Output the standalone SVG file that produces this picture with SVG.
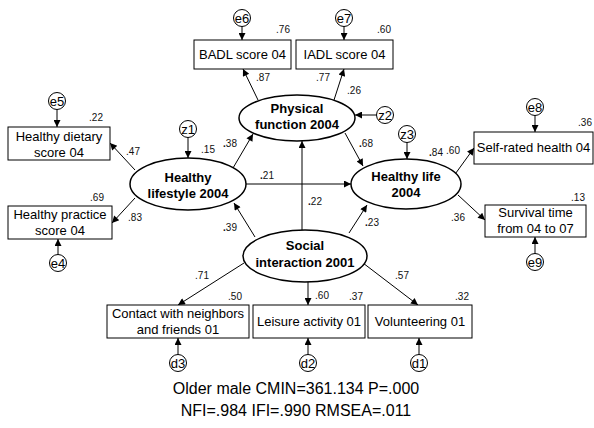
<svg xmlns="http://www.w3.org/2000/svg" width="594" height="428" viewBox="0 0 594 428">
<defs>
<style>
.box{fill:#fff;stroke:#000;stroke-width:1}
.lat{fill:#fff;stroke:#000;stroke-width:1.5}
.err{fill:#fff;stroke:#000;stroke-width:1}
.bt{font-family:"Liberation Sans",Arial,sans-serif;font-size:13px;fill:#000;text-anchor:middle}
.lt{font-family:"Liberation Sans",Arial,sans-serif;font-size:13px;font-weight:bold;fill:#000;text-anchor:middle}
.et{font-family:"Liberation Sans",Arial,sans-serif;font-size:13px;fill:#000;text-anchor:middle}
.nt{font-family:"Liberation Sans",Arial,sans-serif;font-size:10px;fill:#111;text-anchor:middle}
.ft{font-family:"Liberation Sans",Arial,sans-serif;font-size:16px;fill:#000;text-anchor:middle}
.c{stroke:#000;stroke-width:1;fill:none;marker-end:url(#ah)}
</style>
<marker id="ah" viewBox="0 0 10 10" refX="10" refY="5" markerWidth="9" markerHeight="7" markerUnits="userSpaceOnUse" orient="auto">
<path d="M0,0 L10,5 L0,10 z" fill="#000"/>
</marker>
</defs>
<rect width="594" height="428" fill="#fff"/>

<g id="connectors">
<line class="c" x1="258" y1="100" x2="243" y2="69"/>
<line class="c" x1="334" y1="100" x2="344" y2="69"/>
<line class="c" x1="377" y1="115" x2="355" y2="115"/>
<line class="c" x1="233" y1="168" x2="253" y2="134"/>
<line class="c" x1="246" y1="184" x2="351" y2="184"/>
<line class="c" x1="302" y1="230" x2="302" y2="141"/>
<line class="c" x1="345" y1="133" x2="363" y2="166"/>
<line class="c" x1="407" y1="142" x2="407" y2="159"/>
<line class="c" x1="188" y1="137" x2="188" y2="158"/>
<line class="c" x1="135" y1="170" x2="110" y2="143"/>
<line class="c" x1="135" y1="198" x2="112" y2="223"/>
<line class="c" x1="57" y1="109" x2="57" y2="127"/>
<line class="c" x1="58" y1="255" x2="58" y2="239"/>
<line class="c" x1="453" y1="177" x2="474" y2="148"/>
<line class="c" x1="458" y1="195" x2="485" y2="220"/>
<line class="c" x1="535" y1="115" x2="535" y2="132"/>
<line class="c" x1="535" y1="254" x2="535" y2="237"/>
<line class="c" x1="255" y1="237" x2="234" y2="203"/>
<line class="c" x1="349" y1="233" x2="367" y2="205"/>
<line class="c" x1="244" y1="263" x2="178" y2="305"/>
<line class="c" x1="308" y1="282" x2="308" y2="305"/>
<line class="c" x1="363" y1="263" x2="418" y2="305"/>
<line class="c" x1="178" y1="355" x2="178" y2="338"/>
<line class="c" x1="308" y1="355" x2="308" y2="338"/>
<line class="c" x1="419" y1="355" x2="419" y2="338"/>
<line class="c" x1="242" y1="26" x2="242" y2="40"/>
<line class="c" x1="344" y1="26" x2="344" y2="40"/>
</g>

<g id="badl"><rect class="box" x="194" y="40" width="97" height="29"/><text class="bt" x="242.5" y="59">BADL score 04</text></g>
<g id="iadl"><rect class="box" x="296" y="40" width="97" height="29"/><text class="bt" x="344.5" y="59">IADL score 04</text></g>
<g id="dietary"><rect class="box" x="8" y="127" width="102" height="33"/><text class="bt" x="59" y="141">Healthy dietary</text><text class="bt" x="59" y="157">score 04</text></g>
<g id="practice"><rect class="box" x="8" y="206" width="104" height="33"/><text class="bt" x="60" y="219">Healthy practice</text><text class="bt" x="60" y="235">score 04</text></g>
<g id="selfrated"><rect class="box" x="474" y="132" width="119" height="32"/><text class="bt" x="533.5" y="152">Self-rated health 04</text></g>
<g id="survival"><rect class="box" x="485" y="205" width="101" height="32"/><text class="bt" x="535.5" y="217">Survival time</text><text class="bt" x="535.5" y="233">from 04 to 07</text></g>
<g id="contact"><rect class="box" x="107" y="305" width="142" height="33"/><text class="bt" x="178" y="318">Contact with neighbors</text><text class="bt" x="178" y="334">and friends 01</text></g>
<g id="leisure"><rect class="box" x="253" y="305" width="112" height="33"/><text class="bt" x="309" y="326">Leisure activity 01</text></g>
<g id="volunteering"><rect class="box" x="368" y="305" width="104" height="33"/><text class="bt" x="420" y="326">Volunteering 01</text></g>

<g id="physical"><ellipse class="lat" cx="297" cy="118" rx="58" ry="23"/><text class="lt" x="297" y="113">Physical</text><text class="lt" x="297" y="129">function 2004</text></g>
<g id="lifestyle"><ellipse class="lat" cx="188" cy="184" rx="58" ry="26"/><text class="lt" x="188" y="182">Healthy</text><text class="lt" x="188" y="198">lifestyle 2004</text></g>
<g id="healthylife"><ellipse class="lat" cx="406" cy="184" rx="55" ry="25"/><text class="lt" x="406" y="181">Healthy life</text><text class="lt" x="406" y="197">2004</text></g>
<g id="social"><ellipse class="lat" cx="305" cy="256" rx="62" ry="26"/><text class="lt" x="305" y="250">Social</text><text class="lt" x="305" y="267">interaction 2001</text></g>

<g id="e6"><circle class="err" cx="242" cy="18" r="8.5"/><text class="et" x="242" y="22.5">e6</text></g>
<g id="e7"><circle class="err" cx="344" cy="18" r="8.5"/><text class="et" x="344" y="22.5">e7</text></g>
<g id="e5"><circle class="err" cx="57" cy="101" r="8.5"/><text class="et" x="57" y="105.5">e5</text></g>
<g id="e4"><circle class="err" cx="58" cy="263" r="8.5"/><text class="et" x="58" y="267.5">e4</text></g>
<g id="z1"><circle class="err" cx="188" cy="129" r="8.5"/><text class="et" x="188" y="133.5">z1</text></g>
<g id="z2"><circle class="err" cx="385" cy="115" r="8.5"/><text class="et" x="385" y="119.5">z2</text></g>
<g id="z3"><circle class="err" cx="407" cy="134" r="8.5"/><text class="et" x="407" y="138.5">z3</text></g>
<g id="e8"><circle class="err" cx="535" cy="107" r="8.5"/><text class="et" x="535" y="111.5">e8</text></g>
<g id="e9"><circle class="err" cx="535" cy="262" r="8.5"/><text class="et" x="535" y="266.5">e9</text></g>
<g id="d3"><circle class="err" cx="178" cy="363" r="8.5"/><text class="et" x="178" y="367.5">d3</text></g>
<g id="d2"><circle class="err" cx="308" cy="363" r="8.5"/><text class="et" x="308" y="367.5">d2</text></g>
<g id="d1"><circle class="err" cx="419" cy="363" r="8.5"/><text class="et" x="419" y="367.5">d1</text></g>

<g id="labels">
<text class="nt" x="283" y="33">.76</text>
<text class="nt" x="384" y="33">.60</text>
<text class="nt" x="263" y="81">.87</text>
<text class="nt" x="323" y="81">.77</text>
<text class="nt" x="354" y="94">.26</text>
<text class="nt" x="96" y="121">.22</text>
<text class="nt" x="133" y="155">.47</text>
<text class="nt" x="97" y="201">.69</text>
<text class="nt" x="135" y="221">.83</text>
<text class="nt" x="208" y="153">.15</text>
<text class="nt" x="230" y="147"><tspan font-weight="bold">.</tspan>38</text>
<text class="nt" x="366" y="147"><tspan font-weight="bold">.</tspan>68</text>
<text class="nt" x="267" y="179"><tspan font-weight="bold">.</tspan>21</text>
<text class="nt" x="315" y="205"><tspan font-weight="bold">.</tspan>22</text>
<text class="nt" x="230" y="231"><tspan font-weight="bold">.</tspan>39</text>
<text class="nt" x="372" y="226"><tspan font-weight="bold">.</tspan>23</text>
<text class="nt" x="436" y="156"><tspan font-weight="bold">.</tspan>84</text>
<text class="nt" x="453" y="154">.60</text>
<text class="nt" x="585" y="126">.36</text>
<text class="nt" x="578" y="201">.13</text>
<text class="nt" x="458" y="221">.36</text>
<text class="nt" x="202" y="279">.71</text>
<text class="nt" x="235" y="300">.50</text>
<text class="nt" x="322" y="299">.60</text>
<text class="nt" x="356" y="300">.37</text>
<text class="nt" x="402" y="279">.57</text>
<text class="nt" x="462" y="300">.32</text>
</g>

<g id="fit">
<text class="ft" x="296" y="394">Older male CMIN=361.134 P=.000</text>
<text class="ft" x="296" y="416">NFI=.984 IFI=.990 RMSEA=.011</text>
</g>
</svg>
